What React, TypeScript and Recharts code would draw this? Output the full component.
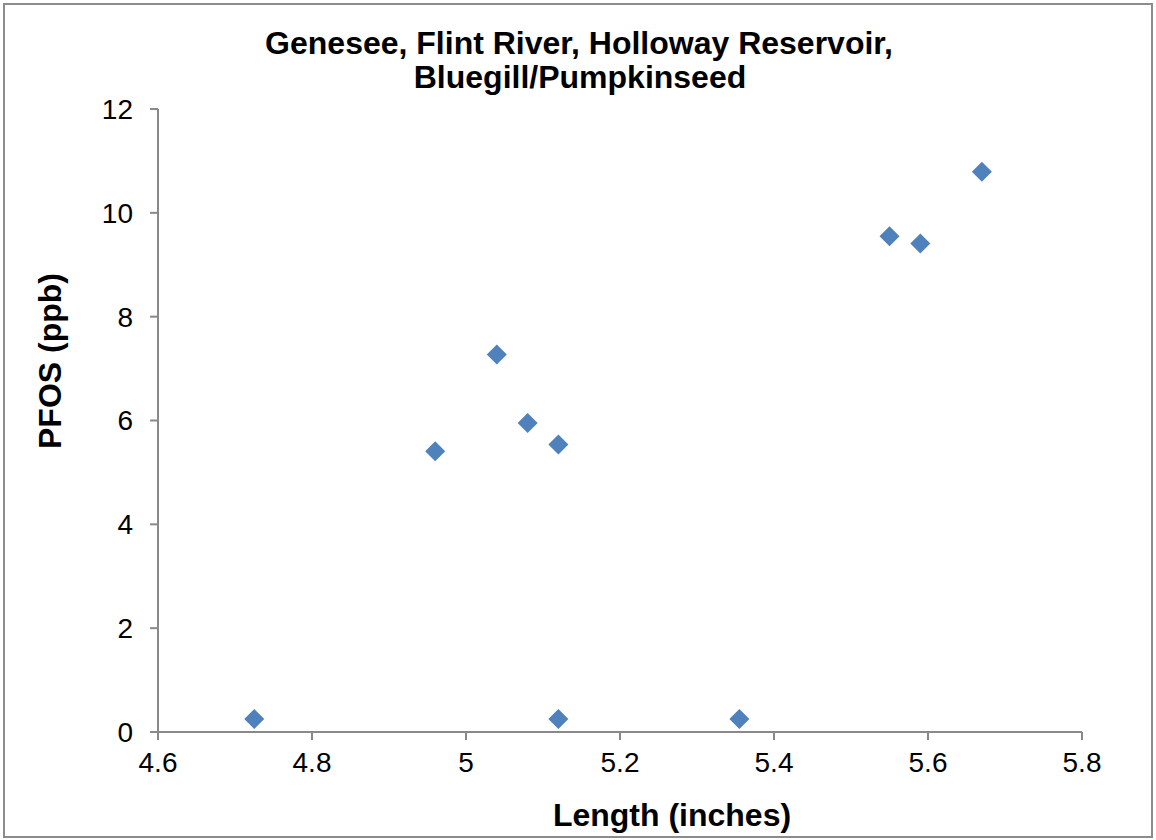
import { ScatterChart, Scatter, XAxis, YAxis } from "recharts";

const lengths = [4.725, 4.96, 5.04, 5.08, 5.12, 5.12, 5.355, 5.55, 5.59, 5.67];
const pfos = [0.25, 5.41, 7.27, 5.95, 5.54, 0.25, 0.25, 9.55, 9.41, 10.79];
const xTicks = [4.6, 4.8, 5, 5.2, 5.4, 5.6, 5.8];
const yTicks = [0, 2, 4, 6, 8, 10, 12];

const data = lengths.map((x, i) => ({ x, y: pfos[i] }));

const font = "'Liberation Sans', Arial, sans-serif";
const axisColor = "#898989";

// diamond marker like the Excel default
const Diamond = (props: any) => {
  const { cx, cy } = props;
  const r = 10;
  return (
    <polygon
      points={`${cx},${cy - r} ${cx + r},${cy} ${cx},${cy + r} ${cx - r},${cy}`}
      fill="#4F81BD"
    />
  );
};

export default function App() {
  return (
    <div style={{ position: "absolute", left: 0, top: 0, width: 1156, height: 840, background: "#fff" }}>
      <div
        style={{
          position: "absolute",
          left: 3,
          top: 3,
          width: 1150,
          height: 835,
          border: "2px solid #8c8c8c",
          boxSizing: "border-box",
        }}
      />
      <div style={{ position: "absolute", left: 0, top: 0 }}>
        <ScatterChart
          width={1156}
          height={840}
          margin={{ top: 109, right: 74, bottom: 48, left: 58 }}
          style={{ fontFamily: font }}
        >
          <XAxis
            type="number"
            dataKey="x"
            domain={[4.6, 5.8]}
            ticks={xTicks}
            height={60}
            stroke={axisColor}
            strokeWidth={2}
            tickSize={8}
            tickMargin={12}
            tick={{ fill: "#000", fontSize: 28, fontFamily: font }}
            allowDataOverflow
          />
          <YAxis
            type="number"
            dataKey="y"
            domain={[0, 12]}
            ticks={yTicks}
            width={100}
            stroke={axisColor}
            strokeWidth={2}
            tickSize={8}
            tickMargin={17}
            tick={{ fill: "#000", fontSize: 28, fontFamily: font }}
            allowDataOverflow
          />
          <Scatter data={data} shape={Diamond} isAnimationActive={false} />
          <text x={579} y={54} textAnchor="middle" fontSize={32} fontWeight="bold" fontFamily={font} fill="#000">
            Genesee, Flint River, Holloway Reservoir,
          </text>
          <text x={580} y={88} textAnchor="middle" fontSize={32} fontWeight="bold" fontFamily={font} fill="#000">
            Bluegill/Pumpkinseed
          </text>
          <text x={672} y={826} textAnchor="middle" fontSize={32} fontWeight="bold" fontFamily={font} fill="#000">
            Length (inches)
          </text>
          <text
            x={61}
            y={361}
            textAnchor="middle"
            fontSize={32}
            fontWeight="bold"
            fontFamily={font}
            fill="#000"
            transform="rotate(-90 61 361)"
          >
            PFOS (ppb)
          </text>
        </ScatterChart>
      </div>
    </div>
  );
}
